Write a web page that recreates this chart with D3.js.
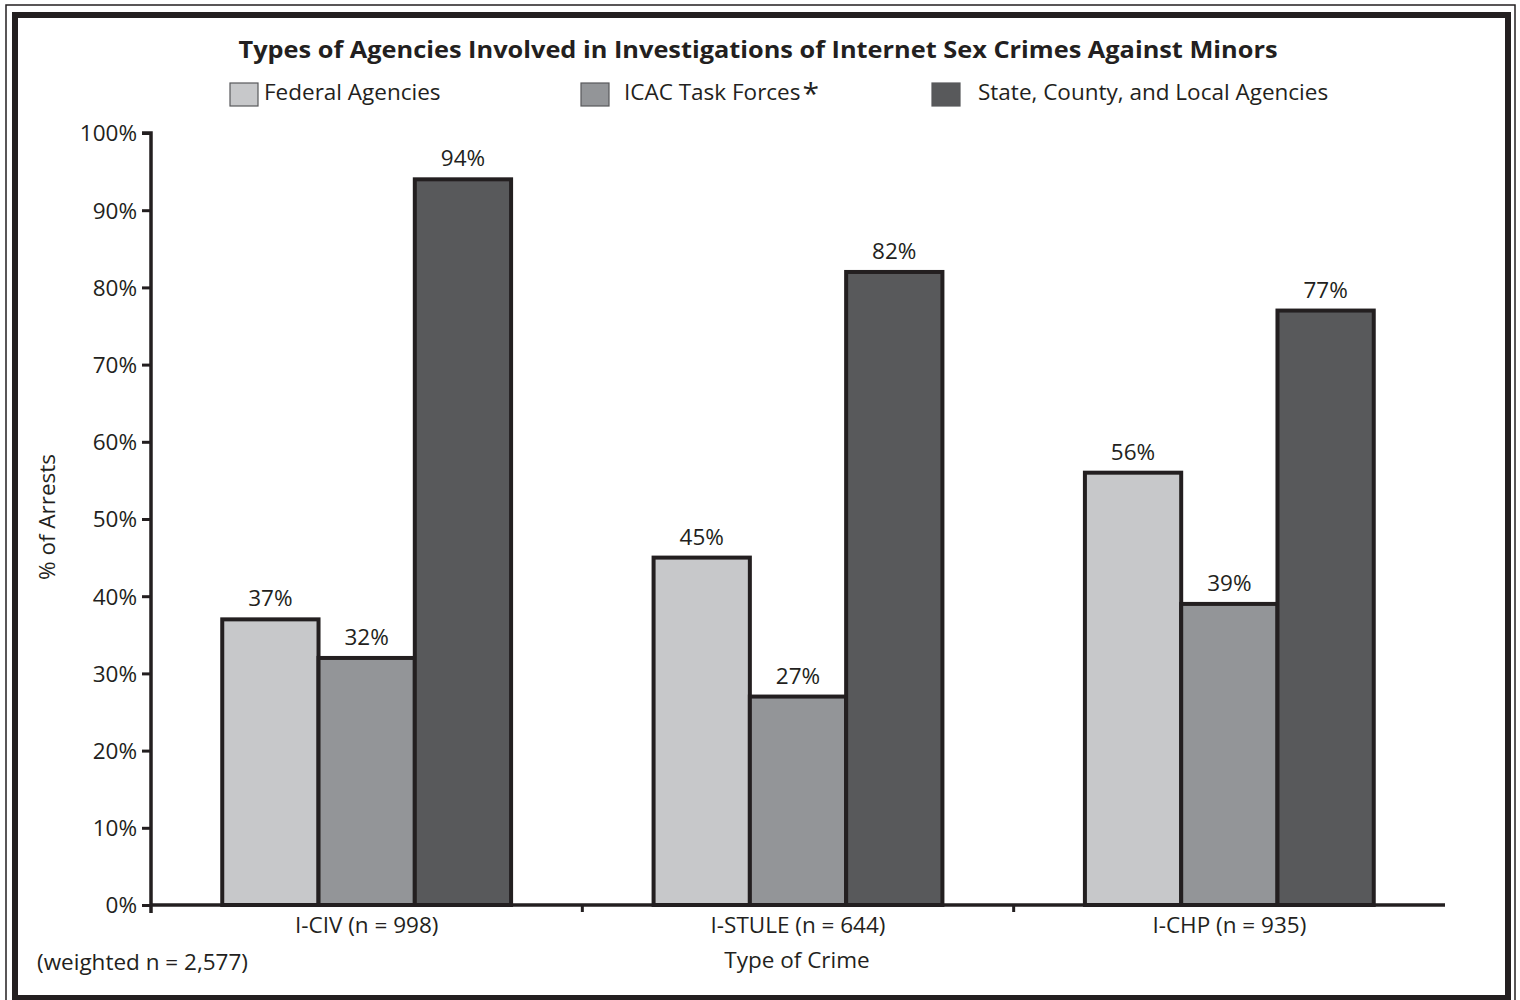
<!DOCTYPE html>
<html>
<head>
<meta charset="utf-8">
<script src="https://cdn.jsdelivr.net/npm/d3@7"></script>
<style>
  body { margin: 0; background: #fff; }
  svg text { font-family: "Open Sans", "Noto Sans", sans-serif; fill: #231f20; }
  .lbl { font-size: 22.5px; }
</style>
</head>
<body>
<svg id="chart" width="1520" height="1000"></svg>
<script>
var categories = ["I-CIV (n = 998)", "I-STULE (n = 644)", "I-CHP (n = 935)"],
    seriesNames = ["Federal Agencies", "ICAC Task Forces", "State, County, and Local Agencies"],
    federal = [37, 45, 56],
    icac = [32, 27, 39],
    stateLocal = [94, 82, 77],
    yTicks = [0, 10, 20, 30, 40, 50, 60, 70, 80, 90, 100],
    colors = ["#c7c8ca", "#939598", "#58595b"];

var values = [federal, icac, stateLocal],
    INK = "#231f20",
    svg = d3.select("#chart");

// frame: thin outer line + heavy inner border
svg.append("rect").attr("x", 6).attr("y", 5).attr("width", 1509).attr("height", 1005)
  .attr("fill", "none").attr("stroke", INK).attr("stroke-width", 1.5);
svg.append("rect").attr("x", 15).attr("y", 15).attr("width", 1493).attr("height", 983)
  .attr("fill", "#fff").attr("stroke", INK).attr("stroke-width", 6);

var y = d3.scaleLinear().domain([0, 100]).range([905, 133]),
    x0 = d3.scaleBand().domain(categories).range([151, 1445]),
    x1 = d3.scaleBand().domain(d3.range(seriesNames.length))
           .range([0, x0.bandwidth()]).paddingOuter(0.74);

// title
svg.append("text").attr("x", 758).attr("y", 58).attr("text-anchor", "middle")
  .style("font-weight", "bold").style("font-size", "23px")
  .attr("textLength", 1039).attr("lengthAdjust", "spacingAndGlyphs")
  .text("Types of Agencies Involved in Investigations of Internet Sex Crimes Against Minors");

// legend
var legendX = [230, 581, 932],
    legendTextX = [264, 624, 978];
var lg = svg.append("g").selectAll("g").data(seriesNames).join("g");
lg.append("rect")
  .attr("x", function (d, i) { return legendX[i]; })
  .attr("y", 83).attr("width", 28).attr("height", 23)
  .attr("fill", function (d, i) { return colors[i]; })
  .attr("stroke", "#58595b").attr("stroke-width", 1.2);
var lgText = lg.append("text").attr("class", "lbl")
  .attr("x", function (d, i) { return legendTextX[i]; })
  .attr("y", 100)
  .text(function (d) { return d; });
// footnote asterisk right after the ICAC entry
var icacEnd = legendTextX[1] + lgText.nodes()[1].getComputedTextLength();
svg.append("text").attr("x", icacEnd + 2).attr("y", 104).style("font-size", "30px").text("*");

// bars
var groups = svg.append("g").selectAll("g").data(categories).join("g")
  .attr("transform", function (d) { return "translate(" + x0(d) + ",0)"; });

function rows(d, ci) {
  return values.map(function (s, si) { return { s: si, v: s[ci] }; });
}

groups.selectAll("rect").data(rows).join("rect")
  .attr("x", function (d) { return x1(d.s); })
  .attr("y", function (d) { return y(d.v); })
  .attr("width", x1.bandwidth())
  .attr("height", function (d) { return y(0) - y(d.v); })
  .attr("fill", function (d) { return colors[d.s]; })
  .attr("stroke", INK).attr("stroke-width", 4);

groups.selectAll("text.val").data(rows).join("text").attr("class", "val lbl")
  .attr("x", function (d) { return x1(d.s) + x1.bandwidth() / 2; })
  .attr("y", function (d) { return y(d.v) - 13; })
  .attr("text-anchor", "middle")
  .text(function (d) { return d.v + "%"; });

// y axis
var yAxis = svg.append("g").attr("transform", "translate(151,0)")
  .call(d3.axisLeft(y).tickValues(yTicks).tickSize(9).tickPadding(5)
    .tickFormat(function (d) { return d + "%"; }));
yAxis.select(".domain").attr("d", "M-9," + y(100) + "H0V" + (y(0) + 8))
  .attr("stroke", INK).attr("stroke-width", 3.5);
yAxis.selectAll(".tick line").attr("stroke", INK).attr("stroke-width", 3);
yAxis.selectAll(".tick text").attr("class", "lbl").attr("fill", INK).attr("dy", "0.35em");

// x axis
var xAxis = svg.append("g").attr("transform", "translate(0," + y(0) + ")")
  .call(d3.axisBottom(x0).tickSize(0).tickPadding(12));
xAxis.select(".domain").attr("d", "M151,0H1445").attr("stroke", INK).attr("stroke-width", 3.5);
xAxis.selectAll(".tick text").attr("class", "lbl").attr("fill", INK).attr("dy", "0.71em");
xAxis.append("g").selectAll("line").data(categories.slice(1)).join("line")
  .attr("x1", function (d) { return x0(d); }).attr("x2", function (d) { return x0(d); })
  .attr("y1", 0).attr("y2", 7).attr("stroke", INK).attr("stroke-width", 3);

// axis titles and note
svg.append("text").attr("class", "lbl").attr("x", 797).attr("y", 968).attr("text-anchor", "middle")
  .text("Type of Crime");
svg.append("text").attr("class", "lbl").attr("transform", "translate(55,517) rotate(-90)")
  .attr("text-anchor", "middle").text("% of Arrests");
svg.append("text").attr("class", "lbl").attr("x", 37).attr("y", 970).text("(weighted n = 2,577)");
</script>
</body>
</html>
